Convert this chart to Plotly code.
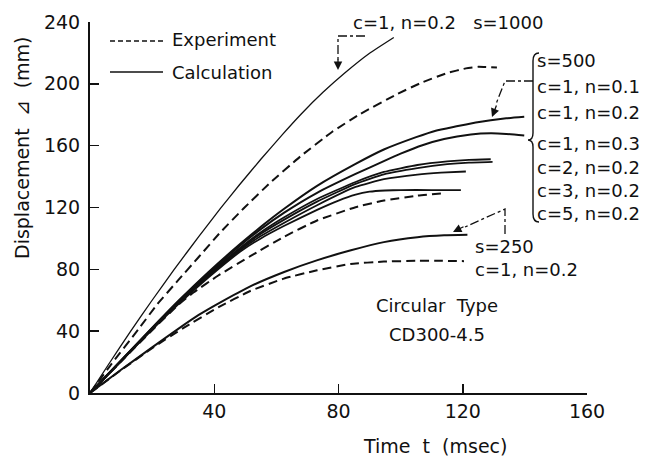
import plotly.graph_objects as go

# ---------------- data ----------------
# s = 1000, c=1, n=0.2
t_s1000_calc = [0, 6, 13, 20, 27, 35, 42, 48, 55, 62, 68, 75, 82, 90, 97.8]
d_s1000_calc = [0, 18.6, 39.7, 60, 79.6, 101.2, 119.4, 134.4, 151.2, 167.3, 180.5, 194.5, 207, 219.8, 230]
t_s1000_exp = [0, 7, 15.5, 21.5, 28.4, 35, 42, 49.5, 58, 67.7, 78, 87, 99, 107, 115, 121, 125, 131]
d_s1000_exp = [0, 19, 41, 57, 73, 88, 104, 119.5, 136, 153, 169, 180.5, 193.5, 201, 207, 210, 211, 210.5]

# s = 500 group
t_c1_n01 = [0, 10, 19.2, 28.4, 38, 48.4, 55, 62.4, 73.1, 85.5, 94.6, 105, 111.3, 118, 124.2, 129, 134, 139.8]
d_c1_n01 = [0, 21, 40.5, 59.5, 78, 96.5, 107.5, 119, 134, 148.2, 157.5, 165.5, 169.7, 172.5, 175, 176.5, 177.7, 178.7]
t_c1_n02 = [0, 10, 19.2, 28.4, 38, 48.4, 55, 62.4, 73.1, 85.5, 94.6, 100, 107, 114, 122.6, 129, 134, 139.8]
d_c1_n02 = [0, 21, 40.3, 59, 77.3, 95.5, 106, 116.5, 129.5, 141.7, 150, 154.8, 160.3, 164.3, 167.2, 168, 167.6, 166.5]
t_c1_n03 = [0, 10, 19.2, 28.4, 38, 48.4, 55, 62.4, 73.1, 85.5, 94.6, 105.4, 115, 122, 129]
d_c1_n03 = [0, 20.8, 40, 58.5, 76.5, 94, 104, 113.5, 125.5, 136.5, 143, 147.5, 149.8, 150.8, 151.2]
t_c2_n02 = [0, 10, 19.2, 28.4, 38, 48.4, 55, 62.4, 73.1, 85.5, 94.6, 105.4, 115, 122, 129.6]
d_c2_n02 = [0, 20.7, 39.8, 58.2, 76, 93.3, 103, 112, 123.8, 135.3, 141.5, 145.5, 148, 149, 149.5]
t_c3_n02 = [0, 10, 19.2, 28.4, 38, 48.4, 55, 62.4, 73.1, 85.5, 94.6, 105.4, 113, 121]
d_c3_n02 = [0, 20.6, 39.6, 57.8, 75.3, 92.5, 101.5, 110, 121.5, 133.3, 138.3, 141.3, 142.5, 143.3]
t_c5_n02 = [0, 10, 19.2, 28.4, 38, 48.4, 55, 62.4, 73.1, 80, 85.5, 90, 95, 100, 110, 119.4]
d_c5_n02 = [0, 20.5, 39.4, 57.3, 74.5, 91.5, 100, 108, 118.5, 124.5, 128.3, 130.2, 131, 131.3, 131.3, 131.2]
t_s500_exp = [0, 10, 19.2, 28.4, 33.3, 41.3, 51.6, 62.4, 73.1, 85.5, 94.6, 105.4, 113.4]
d_s500_exp = [0, 20.3, 39, 57, 65, 76, 88.5, 101, 111.6, 120.2, 124.5, 127.7, 129.2]

# s = 250, c=1, n=0.2
t_s250_calc = [0, 10, 20, 28.4, 35, 41.4, 51.6, 62.5, 73, 84, 94.6, 105.4, 114, 121.5]
d_s250_calc = [0, 15, 29.5, 41.5, 50.5, 58, 69, 78.3, 85.8, 92.3, 97.6, 100.8, 102, 102.3]
t_s250_exp = [0, 10, 20, 30, 41.4, 51.6, 62.4, 73.1, 83.9, 94.6, 105, 113, 120.4]
d_s250_exp = [0, 14.8, 29, 42, 55.5, 66, 74, 79.4, 83.5, 85, 85.5, 85.5, 85.3]

x_ticks = [40, 80, 120, 160]
y_ticks = [0, 40, 80, 120, 160, 200, 240]

group_labels = ["s=500", "c=1, n=0.1", "c=1, n=0.2", "c=1, n=0.3",
                "c=2, n=0.2", "c=3, n=0.2", "c=5, n=0.2"]

FONT = "DejaVu Sans"
INK = "#111111"

# ---------------- figure ----------------
fig = go.Figure()

calc_series = [
    (t_s1000_calc, d_s1000_calc, 1.3),
    (t_c1_n01, d_c1_n01, 2),
    (t_c1_n02, d_c1_n02, 2),
    (t_c1_n03, d_c1_n03, 1.8),
    (t_c2_n02, d_c2_n02, 1.8),
    (t_c3_n02, d_c3_n02, 1.8),
    (t_c5_n02, d_c5_n02, 1.8),
    (t_s250_calc, d_s250_calc, 2),
]
exp_series = [
    (t_s1000_exp, d_s1000_exp),
    (t_s500_exp, d_s500_exp),
    (t_s250_exp, d_s250_exp),
]
for t, d, w in calc_series:
    fig.add_trace(go.Scatter(x=t, y=d, mode="lines",
                             line=dict(color=INK, width=w, shape="spline", smoothing=0.4),
                             showlegend=False, hoverinfo="skip"))
for t, d in exp_series:
    fig.add_trace(go.Scatter(x=t, y=d, mode="lines",
                             line=dict(color=INK, width=2, dash="9px,5px", shape="spline", smoothing=0.4),
                             showlegend=False, hoverinfo="skip"))

# pixel -> paper helpers for decorations
L, R, T, B = 90, 72, 22, 66
W, H = 659, 459
PW, PH = W - L - R, H - T - B


def PX(px):
    return (px - L) / PW


def PY(py):
    return (H - B - py) / PH


shapes = []
annotations = []


def seg(pts, dash="solid", width=1.3):
    path = "M " + " L ".join(f"{PX(a)},{PY(b)}" for a, b in pts)
    shapes.append(dict(type="path", xref="paper", yref="paper", path=path,
                       line=dict(color=INK, width=width, dash=dash)))


def arrowhead(tip, tail_dx, tail_dy):
    annotations.append(dict(xref="paper", yref="paper", x=PX(tip[0]), y=PY(tip[1]),
                            ax=tail_dx, ay=tail_dy, text="", showarrow=True,
                            arrowhead=2, arrowsize=1.3, arrowwidth=1.3, arrowcolor=INK))


def label(text, px, py, size=17, xanchor="left"):
    annotations.append(dict(xref="paper", yref="paper", x=PX(px), y=PY(py), text=text,
                            showarrow=False, xanchor=xanchor, yanchor="middle",
                            font=dict(family=FONT, size=size, color=INK)))


# legend
seg([(110, 41), (163, 41)], dash="5px,3px", width=1.5)
seg([(110, 72), (163, 72)], width=1.5)
label("Experiment", 170, 40, 18)
label("Calculation", 170, 72, 18)

# s=1000 leader
label("c=1, n=0.2   s=1000", 351, 22, 18)
seg([(365, 36), (338, 36), (338, 60)], dash="dashdot")
arrowhead((338, 70), 0, -12)

# s=500 brace and labels
brace = (f"M {PX(539)},{PY(53)} Q {PX(533)},{PY(53)} {PX(533)},{PY(61)} "
         f"L {PX(533)},{PY(133)} Q {PX(533)},{PY(140)} {PX(528)},{PY(140)} "
         f"Q {PX(533)},{PY(140)} {PX(533)},{PY(147)} "
         f"L {PX(533)},{PY(214)} Q {PX(533)},{PY(222)} {PX(539)},{PY(222)}")
shapes.append(dict(type="path", xref="paper", yref="paper", path=brace, line=dict(color=INK, width=1.4)))
group_y = [61, 86, 112, 143, 167, 190, 213]
for txt, yy in zip(group_labels, group_y):
    label(txt, 535, yy, 18)
seg([(533, 81), (505, 81), (496, 104)], dash="dashdot")
arrowhead((492, 117), 5, -13)

# s=250 leader
label("s=250", 473, 246, 18)
label("c=1, n=0.2", 473, 269, 18)
seg([(505, 234), (505, 209), (465, 227)], dash="dashdot")
arrowhead((453, 232), 12, -6)

# specimen label
label("Circular  Type", 437, 305, 18, xanchor="center")
label("CD300-4.5", 437, 334, 18, xanchor="center")

# axis titles
annotations.append(dict(xref="paper", yref="paper", x=PX(435), y=PY(446), text="Time  t  (msec)",
                        showarrow=False, xanchor="center", yanchor="middle",
                        font=dict(family=FONT, size=19, color=INK)))
annotations.append(dict(xref="paper", yref="paper", x=PX(22), y=PY(148), text="Displacement  ⊿  (mm)",
                        showarrow=False, xanchor="center", yanchor="middle", textangle=-90,
                        font=dict(family=FONT, size=19, color=INK)))

axis_common = dict(showline=True, linecolor=INK, linewidth=2, ticks="inside", ticklen=9,
                   tickwidth=1.5, tickcolor=INK, showgrid=False, zeroline=False,
                   tickfont=dict(family=FONT, size=19, color=INK))

fig.update_layout(
    width=W, height=H,
    margin=dict(l=L, r=R, t=T, b=B),
    paper_bgcolor="white", plot_bgcolor="white",
    xaxis=dict(range=[0, 160], tickvals=x_ticks, ticktext=[str(v) for v in x_ticks], **axis_common),
    yaxis=dict(range=[0, 240], tickvals=y_ticks, ticktext=[str(v) for v in y_ticks],
               ticklabelstandoff=4, **axis_common),
    shapes=shapes,
    annotations=annotations,
    showlegend=False,
)

fig.write_html("out.html", config={"displayModeBar": False, "staticPlot": True},
               post_script="document.body.style.margin='0';document.body.style.overflow='hidden';")
